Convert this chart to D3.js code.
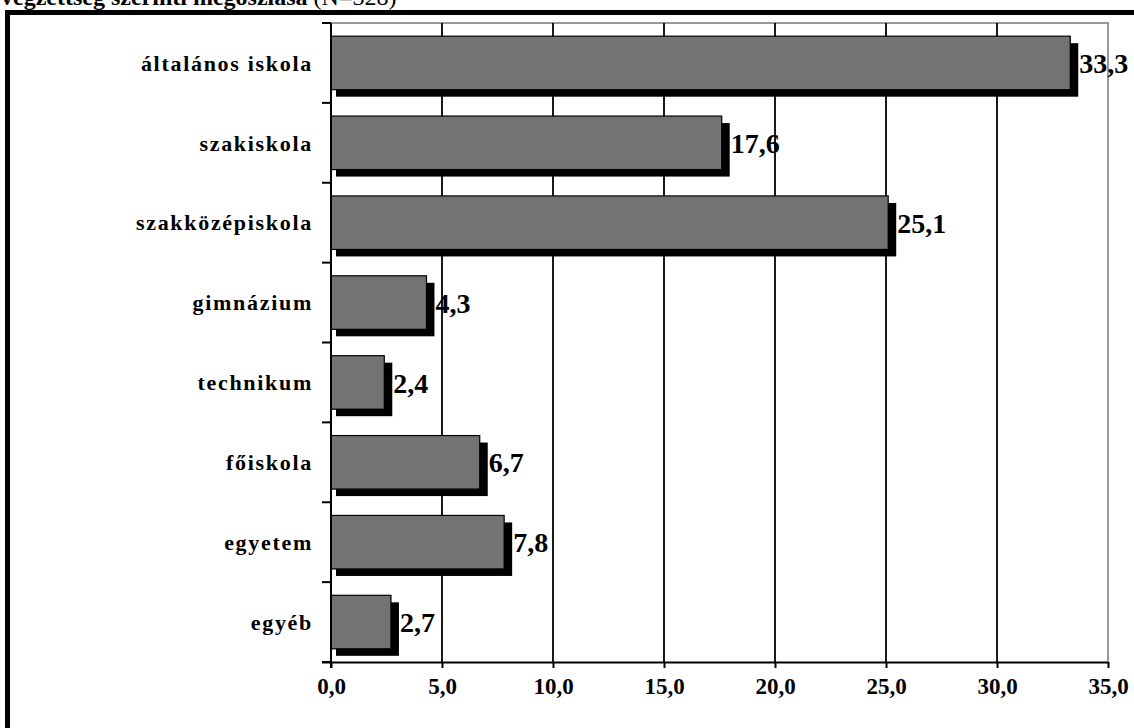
<!DOCTYPE html>
<html><head><meta charset="utf-8">
<script src="https://cdn.jsdelivr.net/npm/d3@7"></script>
<style>body{margin:0;background:#fff}svg{display:block}</style>
</head><body>
<svg id="c" width="1134" height="728"></svg>
<script>
const categories = ["általános iskola","szakiskola","szakközépiskola","gimnázium","technikum","főiskola","egyetem","egyéb"];
const values = [33.3, 17.6, 25.1, 4.3, 2.4, 6.7, 7.8, 2.7];
const xTicks = [0,5,10,15,20,25,30,35];
const titleBold = "végzettség szerinti megoszlása";
const titleRest = " (N=328)";

const svg = d3.select("#c");
const fontFam = "'Liberation Serif','Times New Roman',serif";
const L = 331, R = 1108, T = 23, B = 662;
const x = d3.scaleLinear().domain([0,35]).range([L,R]);
const y = d3.scaleBand().domain(categories).range([T,B]).paddingInner(0.33).paddingOuter(0.165);
const fmt = v => d3.format(".1f")(v).replace(".", ",");

// outer frame
svg.append("rect").attr("x",7.5).attr("y",12.5).attr("width",1200).attr("height",800)
  .attr("fill","none").attr("stroke","#000").attr("stroke-width",5);

// title
const tt = svg.append("text").attr("x",1).attr("y",5).attr("font-family",fontFam).attr("font-size",24);
tt.append("tspan").attr("font-weight","bold").text(titleBold);
tt.append("tspan").text(titleRest);

// plot border (gray top/right)
svg.append("path").attr("d",`M${L},${T}H${R}V${B}`).attr("fill","none").attr("stroke","#999").attr("stroke-width",2);

// gridlines
svg.append("g").selectAll("line").data(xTicks.filter(t=>t>0 && t<35)).join("line")
  .attr("x1",d=>x(d)).attr("x2",d=>x(d)).attr("y1",T).attr("y2",B)
  .attr("stroke","#000").attr("stroke-width",1.8);

// shadows
svg.append("g").selectAll("rect").data(values).join("rect")
  .attr("x",x(0)+5).attr("y",(d,i)=>y(categories[i])+7)
  .attr("width",d=>x(d)-x(0)+3).attr("height",y.bandwidth())
  .attr("fill","#000");
// bars
svg.append("g").selectAll("rect").data(values).join("rect")
  .attr("x",x(0)).attr("y",(d,i)=>y(categories[i]))
  .attr("width",d=>x(d)-x(0)).attr("height",y.bandwidth())
  .attr("fill","#737373").attr("stroke","#000").attr("stroke-width",1.2);

// value labels
svg.append("g").selectAll("text").data(values).join("text")
  .attr("x",d=>x(d)+9).attr("y",(d,i)=>y(categories[i])+y.bandwidth()/2)
  .attr("dy","0.36em").attr("font-family",fontFam).attr("font-weight","bold").attr("font-size",28)
  .text(d=>fmt(d));

// x axis
const xa = svg.append("g").attr("transform",`translate(0,${B})`)
  .call(d3.axisBottom(x).tickValues(xTicks).tickFormat(fmt).tickSize(6).tickSizeOuter(0));
xa.select(".domain").attr("d",`M${L-9},0.5H${R}`).attr("stroke","#000").attr("stroke-width",2);
xa.selectAll(".tick line").attr("stroke","#000").attr("stroke-width",2);
xa.selectAll(".tick text").attr("y",32).attr("dy",0).attr("font-family",fontFam).attr("font-weight","bold").attr("font-size",23).attr("fill","#000");

// y axis
const yLine = svg.append("g");
yLine.append("line").attr("x1",L).attr("x2",L).attr("y1",T).attr("y2",B+6).attr("stroke","#000").attr("stroke-width",2);
const bounds = d3.range(categories.length+1).map(i => T + i*y.step());
yLine.selectAll("line.t").data(bounds).join("line").attr("class","t")
  .attr("x1",L-9).attr("x2",L).attr("y1",d=>d).attr("y2",d=>d).attr("stroke","#000").attr("stroke-width",2);
svg.append("g").selectAll("text").data(categories).join("text")
  .attr("x",313).attr("y",d=>y(d)+y.bandwidth()/2).attr("dy","0.35em")
  .attr("text-anchor","end").attr("font-family",fontFam).attr("font-weight","bold").attr("font-size",22)
  .attr("letter-spacing","1.7px")
  .text(d=>d);
</script>
</body></html>
